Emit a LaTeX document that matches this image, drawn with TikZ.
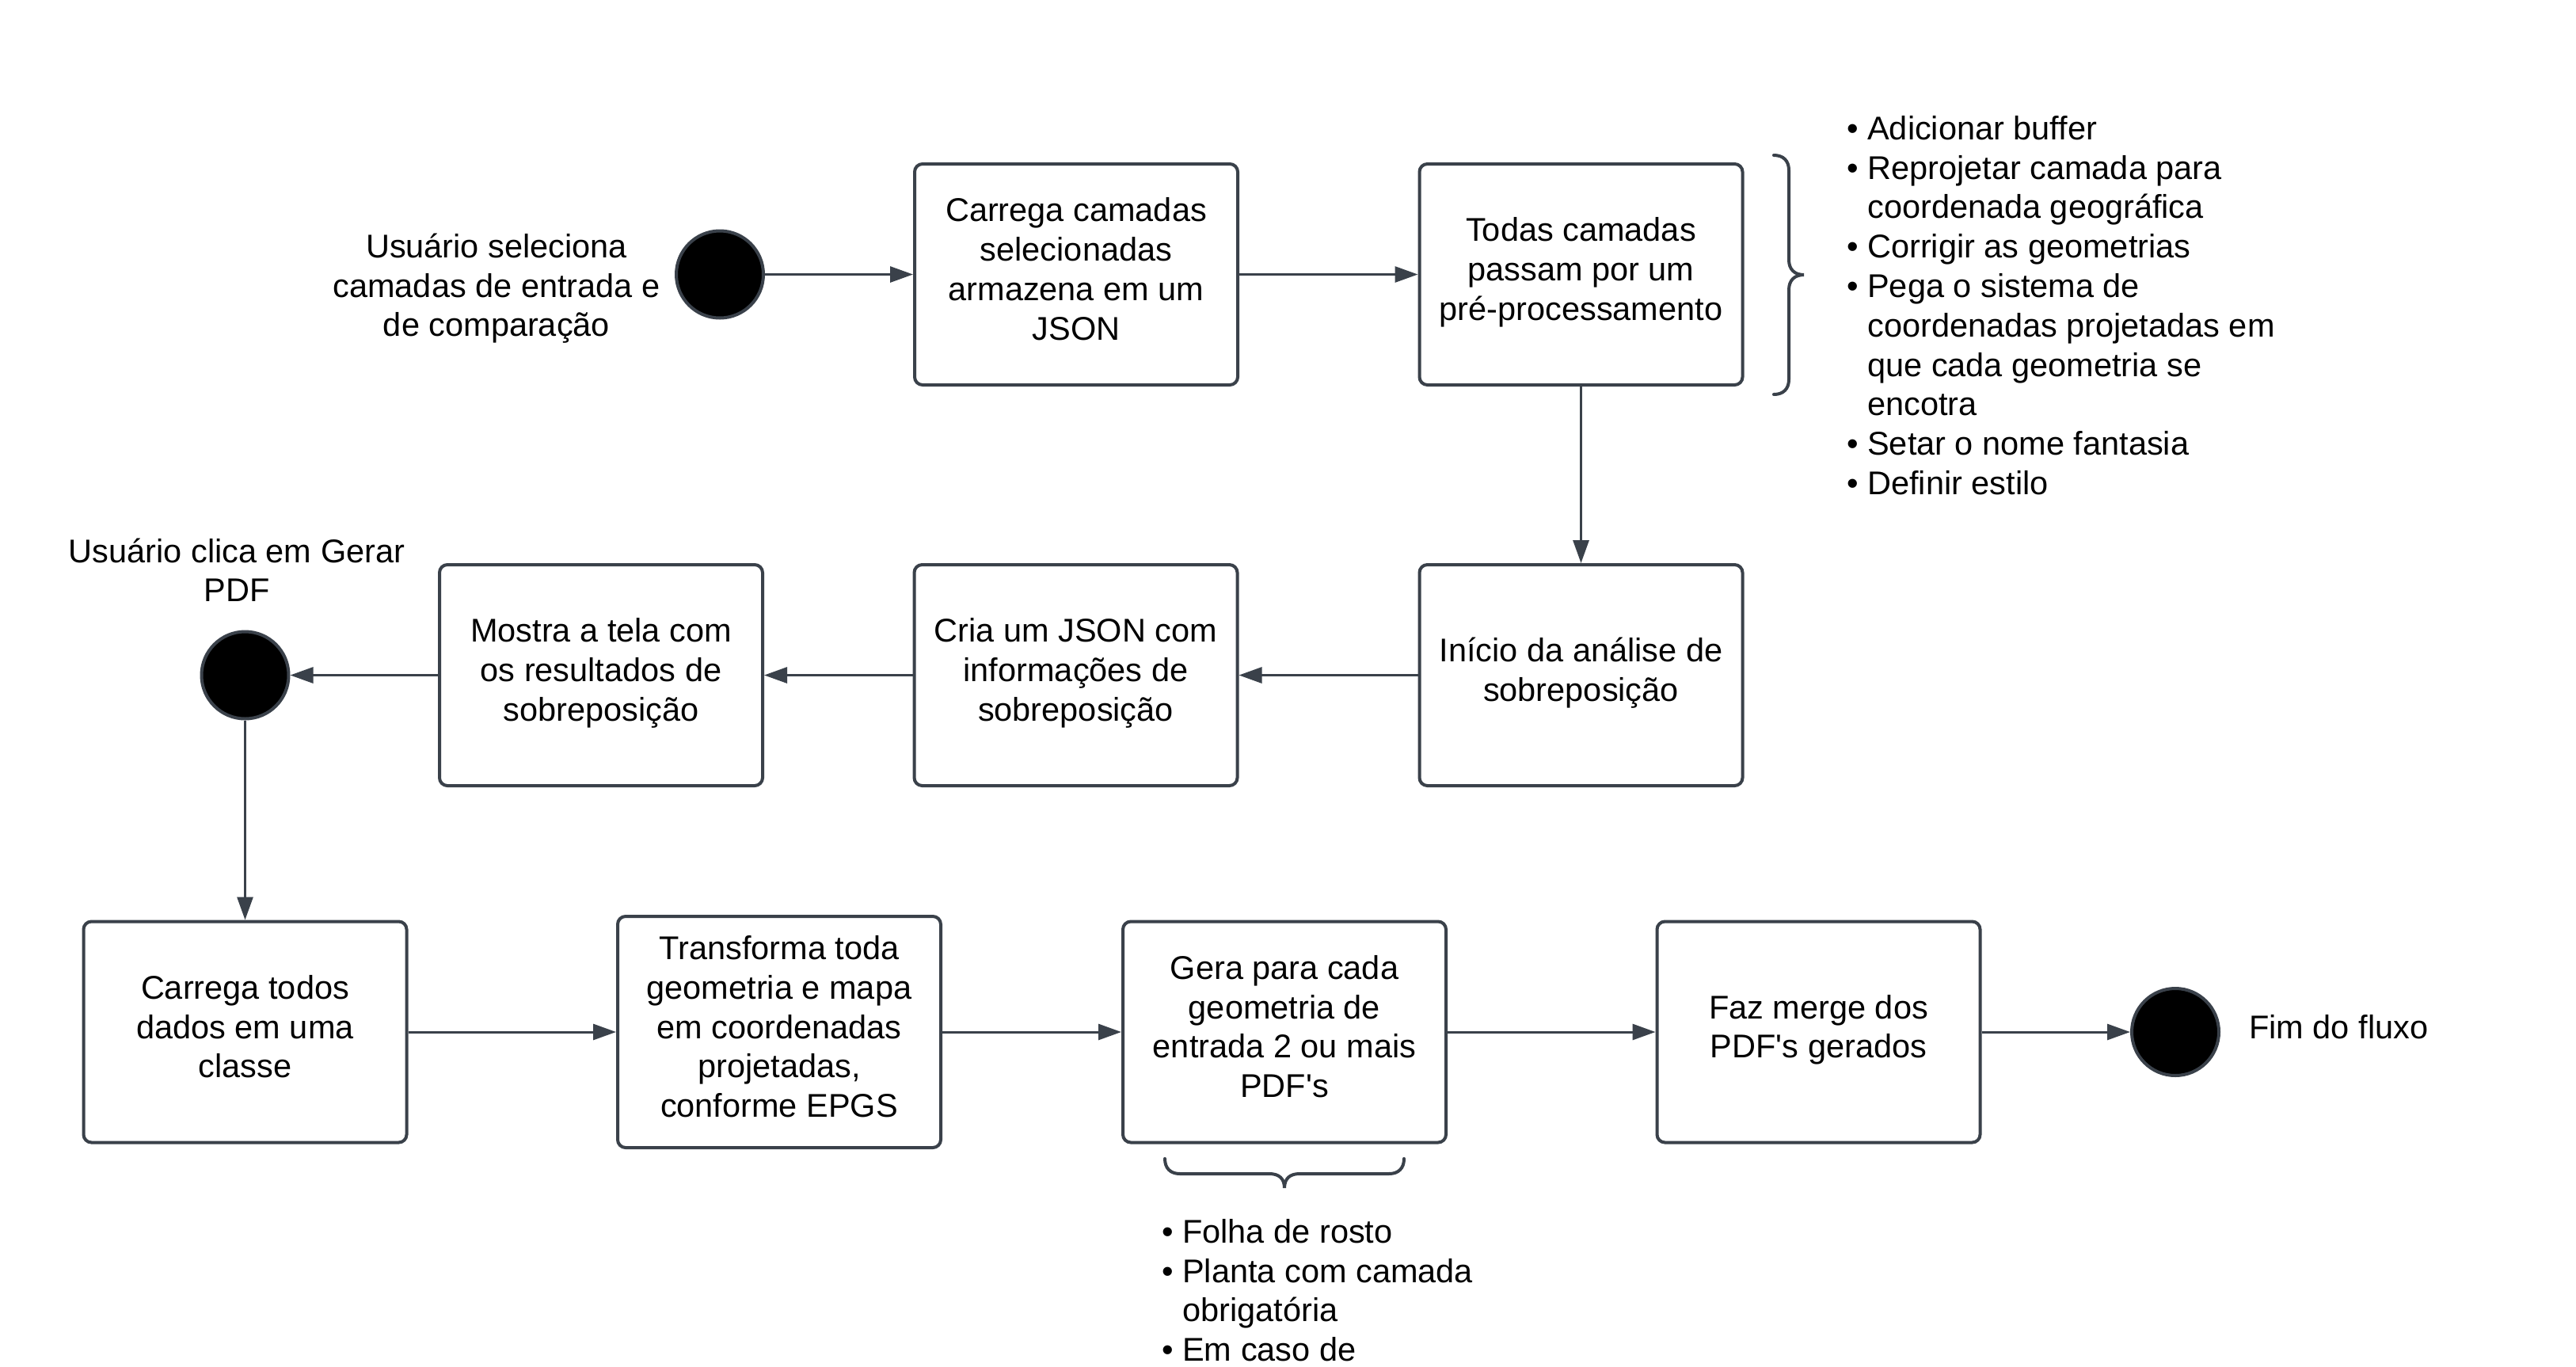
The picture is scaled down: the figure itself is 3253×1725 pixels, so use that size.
\documentclass[tikz,border=0pt]{standalone}
\usepackage{fontspec}
\setmainfont{Liberation Sans}[Ligatures=TeXOff]
\usetikzlibrary{arrows.meta}
\definecolor{lc}{HTML}{3A414A}
\newcommand\FL{\rule{0pt}{40pt}}
\newcommand\LL{\rule[-24pt]{0pt}{24pt}}
\newcommand\IND{\phantom{•\ }}
\begin{document}
\begin{tikzpicture}[x=1pt,y=-1pt,
  txt/.style={font=\fontsize{41.5}{49.8}\selectfont, align=center, inner sep=0pt, text=black},
  box/.style={txt, draw=lc, line width=4pt, rounded corners=10pt, fill=white, minimum width=408pt, minimum height=279pt},
  dot/.style={circle, draw=lc, line width=4pt, fill=black, minimum size=110pt, inner sep=0pt},
  conn/.style={draw=lc, line width=3pt, -{Triangle[length=29pt,width=20pt]}},
  brace/.style={draw=lc, line width=4pt, line cap=round},
  lst/.style={txt, align=left, anchor=north west}
]
\useasboundingbox[fill=white] (0,0) rectangle (3253,1725);

% row 1
\node[dot] (c1) at (909,346.5) {};
\node[box] (b1) at (1359,346.5) {\FL Carrega camadas\\selecionadas\\armazena em um\\JSON\LL};
\node[box] (b2) at (1996.5,346.5) {\FL Todas camadas\\passam por um\\pré-processamento\LL};
\node[txt] (l1) at (627,367) {\FL Usuário seleciona\\camadas de entrada e\\de comparação\LL};

% row 2
\node[box] (b3) at (1996.5,852.5) {\FL Início da análise de\\sobreposição\LL};
\node[box] (b4) at (1358.5,852.5) {\FL Cria um JSON com\\informações de\\sobreposição\LL};
\node[box] (b5) at (759,852.5) {\FL Mostra a tela com\\os resultados de\\sobreposição\LL};
\node[dot] (c2) at (309.5,852.5) {};
\node[txt] (l2) at (299,727) {\FL Usuário clica em Gerar\\PDF\LL};

% row 3
\node[box] (b6) at (309.5,1303) {\FL Carrega todos\\dados em uma\\classe\LL};
\node[box, minimum height=292pt] (b7) at (984,1303) {\FL Transforma toda\\geometria e mapa\\em coordenadas\\projetadas,\\conforme EPGS\LL};
\node[box] (b8) at (1622,1303) {\FL Gera para cada\\geometria de\\entrada 2 ou mais\\PDF's\LL};
\node[box] (b9) at (2296.5,1303) {\FL Faz merge dos\\PDF's gerados\LL};
\node[dot] (c3) at (2747,1303) {};
\node[txt, anchor=base west] (l3) at (2840,1311) {Fim do fluxo};

% lists
\node[lst] (list1) at (2332,136) {\FL• Adicionar buffer\\• Reprojetar camada para\\\IND coordenada geográfica\\• Corrigir as geometrias\\• Pega o sistema de\\\IND coordenadas projetadas em\\\IND que cada geometria se\\\IND encotra\\• Setar o nome fantasia\\• Definir estilo};
\node[lst] (list2) at (1467,1529) {\FL• Folha de rosto\\• Planta com camada\\\IND obrigatória\\• Em caso de};

% braces
\draw[brace] (2240,196) .. controls (2252,196) and (2259,203) .. (2259,215) -- (2259,328) .. controls (2259,340) and (2266,347) .. (2278,347) .. controls (2266,347) and (2259,354) .. (2259,366) -- (2259,479) .. controls (2259,491) and (2252,498) .. (2240,498);
\draw[brace] (1471,1463) .. controls (1471,1475) and (1478,1482) .. (1490,1482) -- (1603,1482) .. controls (1615,1482) and (1622,1488) .. (1622,1500) .. controls (1622,1488) and (1629,1482) .. (1641,1482) -- (1754,1482) .. controls (1766,1482) and (1773,1475) .. (1773,1463);

% connectors
\draw[conn] (c1) -- (b1);
\draw[conn] (b1) -- (b2);
\draw[conn] (b2) -- (b3);
\draw[conn] (b3) -- (b4);
\draw[conn] (b4) -- (b5);
\draw[conn] (b5) -- (c2);
\draw[conn] (c2) -- (b6);
\draw[conn] (b6) -- (b7);
\draw[conn] (b7) -- (b8);
\draw[conn] (b8) -- (b9);
\draw[conn] (b9) -- (c3);
\end{tikzpicture}
\end{document}
